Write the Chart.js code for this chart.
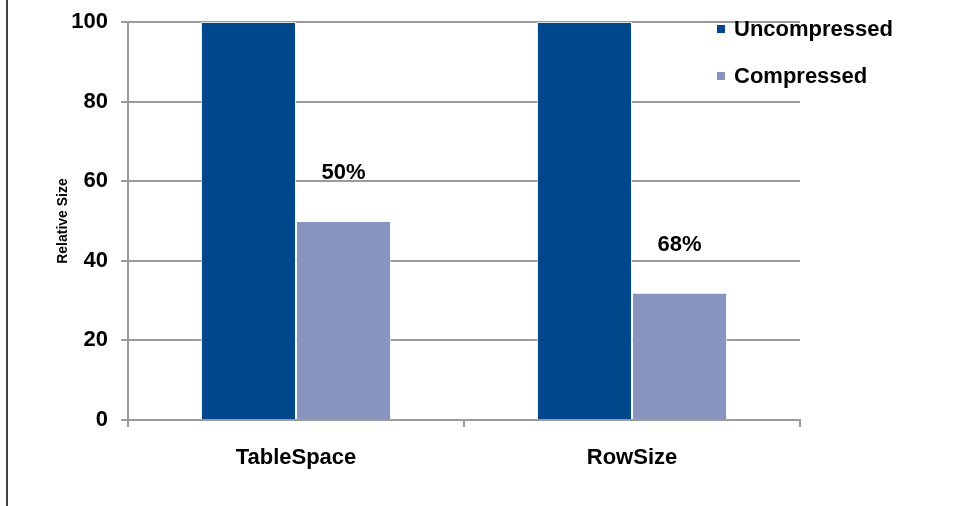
<!DOCTYPE html>
<html>
<head>
<meta charset="utf-8">
<script src="https://cdn.jsdelivr.net/npm/chart.js@4"></script>
<style>
    body { margin: 0; background: #fff; }
    canvas { display: block; }
</style>
</head>
<body>
<canvas id="sizeChart" width="959" height="506"></canvas>
<script>
// categories and series
const categories = ['TableSpace', 'RowSize'];
const uncompressed = [100, 100];
const compressed = [50, 32];
const savingsLabels = ['50%', '68%'];
const yTicks = [0, 20, 40, 60, 80, 100];

const FONT = '"Liberation Sans", Arial, sans-serif';
const GRID = '#9a9a9a';

// labels above the compressed bars + legend + left frame line
const extras = {
    id: 'extras',
    afterDraw(chart) {
        const ctx = chart.ctx;
        ctx.save();

        ctx.fillStyle = '#000';
        ctx.font = 'bold 22px ' + FONT;
        ctx.textAlign = 'center';
        ctx.textBaseline = 'middle';
        chart.getDatasetMeta(1).data.forEach((bar, i) => {
            ctx.fillText(savingsLabels[i], bar.x, bar.y - 48);
        });

        // legend
        ctx.textAlign = 'left';
        const rows = [29, 76];
        chart.data.datasets.forEach((ds, i) => {
            ctx.fillStyle = ds.backgroundColor;
            ctx.fillRect(717, rows[i] - 4, 8, 8);
            ctx.fillStyle = '#000';
            ctx.fillText(ds.label, 734, rows[i] + 1);
        });

        ctx.strokeStyle = '#000';
        ctx.lineWidth = 1.5;
        ctx.beginPath();
        ctx.moveTo(7, 0);
        ctx.lineTo(7, 506);
        ctx.stroke();
        ctx.restore();
    }
};

const ctx = document.getElementById('sizeChart').getContext('2d');
new Chart(ctx, {
    type: 'bar',
    data: {
        labels: categories,
        datasets: [{
            label: 'Uncompressed',
            data: uncompressed,
            backgroundColor: '#00478b',
            borderColor: 'rgba(255,255,255,0.7)',
            borderWidth: 1
        }, {
            label: 'Compressed',
            data: compressed,
            backgroundColor: '#8794bf',
            borderColor: 'rgba(255,255,255,0.7)',
            borderWidth: 1
        }]
    },
    options: {
        responsive: false,
        animation: false,
        layout: { padding: { left: 0, right: 159, top: 22, bottom: 0 } },
        datasets: {
            bar: { categoryPercentage: 0.566, barPercentage: 1.0 }
        },
        plugins: {
            legend: { display: false },
            tooltip: { enabled: false }
        },
        scales: {
            x: {
                grid: {
                    display: true,
                    drawOnChartArea: false,
                    color: GRID,
                    lineWidth: 2,
                    tickLength: 7
                },
                border: { color: GRID, width: 2 },
                ticks: {
                    color: '#000',
                    padding: 18,
                    font: { family: FONT, size: 22, weight: 'bold' }
                },
                afterFit(scale) { scale.height = 86; }
            },
            y: {
                min: 0,
                max: 100,
                afterBuildTicks(scale) {
                    scale.ticks = yTicks.map(v => ({ value: v }));
                },
                grid: {
                    color: GRID,
                    lineWidth: 2,
                    tickLength: 7
                },
                border: { color: GRID, width: 2 },
                ticks: {
                    color: '#000',
                    padding: 13,
                    font: { family: FONT, size: 22, weight: 'bold' }
                },
                title: {
                    display: true,
                    text: 'Relative Size',
                    color: '#000',
                    padding: { top: 55, bottom: 0 },
                    font: { family: FONT, size: 14, weight: 'bold' }
                },
                afterFit(scale) {
                    scale.width = 128;
                    scale.paddingTop = 0;
                    scale.paddingBottom = 0;
                }
            }
        }
    },
    plugins: [extras]
});
</script>
</body>
</html>
